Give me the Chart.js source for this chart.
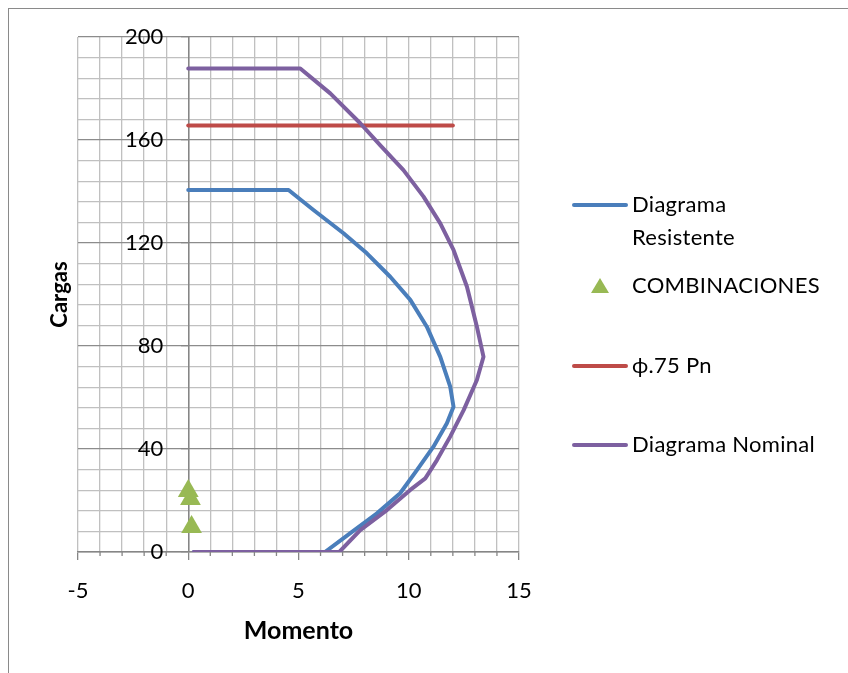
<!DOCTYPE html>
<html>
<head>
<meta charset="utf-8">
<script src="https://cdn.jsdelivr.net/npm/chart.js@4.4.1/dist/chart.umd.min.js"></script>
<style>
  body { margin: 0; background: #fff; overflow: hidden; font-family: Lato, sans-serif; }
  #wrap { position: relative; width: 848px; height: 673px; overflow: hidden; }
  #marco { position: absolute; left: 8px; top: 8px; width: 900px; height: 700px; border: 1px solid #8a8a8a; }
  #grafico { position: absolute; left: 0; top: 0; }
  .linea { position: absolute; left: 572px; width: 56px; height: 4px; border-radius: 2px; }
  .tri { position: absolute; left: 591px; width: 0; height: 0; border-left: 9px solid transparent; border-right: 9px solid transparent; border-bottom: 15px solid #98b954; }
  .texto { position: absolute; left: 632px; font-size: 22px; letter-spacing: 0.3px; line-height: 33px; color: #000; white-space: nowrap; }
</style>
</head>
<body>
<div id="wrap">
  <div id="marco"></div>
  <canvas id="grafico" width="848" height="673"></canvas>
  <div id="leyenda"></div>
</div>
<script>
// Diagrama Resistente
const momentoResistente = [0.25, 6.2, 7.35, 8.56, 9.61, 10.37, 11.12, 11.73, 12.03, 11.88, 11.43, 10.82, 10.07, 9.16, 8.1, 7.04, 5.68, 4.55, 0];
const cargaResistente = [0, 0, 7.3, 15, 22.8, 31.8, 40.9, 50, 56.4, 64.2, 75.8, 87.5, 97.9, 106.9, 116, 123.8, 132.8, 140.6, 140.6];

// Diagrama Nominal
const momentoNominal = [0.25, 6.85, 7.8, 9.01, 10.07, 10.75, 11.28, 11.88, 12.49, 13.09, 13.39, 13.09, 12.79, 12.64, 12.03, 11.43, 10.67, 9.76, 8.7, 7.8, 6.44, 5.08, 0];
const cargaNominal = [0, 0, 8.5, 16.3, 24.1, 28.6, 35.7, 44.8, 55.1, 66.8, 75.8, 87.5, 97.9, 103, 117.3, 127.6, 138, 148.3, 158, 166.5, 178.1, 187.8, 187.8];

// phi .75 Pn
const momentoLimite = [0, 12];
const cargaLimite = [165.6, 165.6];

// COMBINACIONES
const momentoComb = [0, 0.1, 0.15];
const cargaComb = [23.7, 20.6, 9.7];

const xTicks = [-5, 0, 5, 10, 15];
const yTicks = [0, 40, 80, 120, 160, 200];

function puntos(xs, ys) {
    return xs.map((x, i) => ({ x: x, y: ys[i] }));
}

const fuente = { family: 'Lato', size: 22 };
const gris = '#868686';
const nada = 'rgba(0,0,0,0)';

// small tick marks on the x axis
const marcasMenores = {
    id: 'marcasMenores',
    afterDraw(chart) {
        const ctx = chart.ctx;
        const sx = chart.scales.x;
        const base = chart.scales.y.getPixelForValue(0);
        ctx.save();
        ctx.strokeStyle = gris;
        ctx.lineWidth = 1.3;
        sx.ticks.forEach(t => {
            if (!xTicks.includes(t.value)) {
                const px = sx.getPixelForValue(t.value);
                ctx.beginPath();
                ctx.moveTo(px, base);
                ctx.lineTo(px, base + 4);
                ctx.stroke();
            }
        });
        ctx.restore();
    }
};

function dibujar() {
    const ctx = document.getElementById('grafico');
    new Chart(ctx, {
        type: 'scatter',
        data: {
            datasets: [
                {
                    label: 'Diagrama Resistente',
                    data: puntos(momentoResistente, cargaResistente),
                    showLine: true, borderColor: '#4a7ebb', borderWidth: 4,
                    pointRadius: 0, borderCapStyle: 'round', borderJoinStyle: 'round', order: 3
                },
                {
                    label: 'COMBINACIONES',
                    data: puntos(momentoComb, cargaComb),
                    showLine: false, pointStyle: 'triangle', pointRadius: 12,
                    backgroundColor: '#98b954', borderColor: '#98b954', borderWidth: 0, order: 0
                },
                {
                    label: 'ϕ.75 Pn',
                    data: puntos(momentoLimite, cargaLimite),
                    showLine: true, borderColor: '#be4b48', borderWidth: 4,
                    pointRadius: 0, borderCapStyle: 'round', order: 2
                },
                {
                    label: 'Diagrama Nominal',
                    data: puntos(momentoNominal, cargaNominal),
                    showLine: true, borderColor: '#7d60a0', borderWidth: 4,
                    pointRadius: 0, borderCapStyle: 'round', borderJoinStyle: 'round', order: 1
                }
            ]
        },
        options: {
            responsive: false,
            animation: false,
            layout: { padding: { left: 0, right: 329, top: 37, bottom: 0 } },
            plugins: { legend: { display: false }, tooltip: { enabled: false } },
            scales: {
                x: {
                    type: 'linear', position: 'bottom', min: -5, max: 15,
                    ticks: {
                        stepSize: 1, autoSkip: false, maxRotation: 0, padding: 18,
                        color: '#000', font: fuente,
                        callback: v => xTicks.includes(v) ? v : ''
                    },
                    grid: {
                        color: '#c0c0c0', lineWidth: 1.3, tickLength: 8,
                        tickColor: c => (c.tick && xTicks.includes(c.tick.value)) ? gris : nada
                    },
                    border: { color: gris, width: 1.5 },
                    title: {
                        display: true, text: 'Momento', color: '#000',
                        font: { family: 'Lato', size: 25, weight: 'bold' },
                        padding: { top: 0, bottom: 27 }
                    },
                    afterFit: s => { s.height = 121; }
                },
                // axis line through x = 0 (grid, ticks), labels come from yTitulo
                y: {
                    type: 'linear', position: { x: 0 }, min: 0, max: 200,
                    ticks: { stepSize: 8, autoSkip: false, callback: () => '' },
                    grid: {
                        color: c => (c.tick && yTicks.includes(c.tick.value)) ? '#8c8c8c' : '#c0c0c0',
                        lineWidth: 1.3, tickLength: 7,
                        tickColor: c => (c.tick && yTicks.includes(c.tick.value)) ? gris : nada
                    },
                    border: { color: gris, width: 1.5 }
                },
                yTitulo: {
                    type: 'linear', position: 'left', min: 0, max: 200,
                    ticks: {
                        stepSize: 40, mirror: true, crossAlign: 'far', padding: 47,
                        color: '#000', font: fuente
                    },
                    grid: { display: false, drawTicks: false },
                    border: { display: false },
                    title: {
                        display: true, text: 'Cargas', color: '#000',
                        font: { family: 'Lato', size: 22, weight: 'bold' },
                        padding: { top: 47, bottom: 0 }
                    },
                    afterFit: s => {
                        s.width = 78;
                        s.paddingTop = 0;
                        s.paddingBottom = 0;
                    }
                }
            }
        },
        plugins: [marcasMenores]
    });

    // legend at the right
    const leyenda = document.getElementById('leyenda');
    const items = [
        { texto: ['Diagrama', 'Resistente'], tipo: 'linea', color: '#4a7ebb', y: 205 },
        { texto: ['COMBINACIONES'], tipo: 'tri', color: '#98b954', y: 286 },
        { texto: ['ϕ.75 Pn'], tipo: 'linea', color: '#be4b48', y: 366 },
        { texto: ['Diagrama Nominal'], tipo: 'linea', color: '#7d60a0', y: 445 }
    ];
    items.forEach(it => {
        const m = document.createElement('div');
        if (it.tipo === 'linea') {
            m.className = 'linea';
            m.style.top = (it.y - 2) + 'px';
            m.style.background = it.color;
        } else {
            m.className = 'tri';
            m.style.top = (it.y - 8) + 'px';
        }
        leyenda.appendChild(m);
        const t = document.createElement('div');
        t.className = 'texto';
        t.style.top = (it.y - 18) + 'px';
        t.innerHTML = it.texto.join('<br>');
        leyenda.appendChild(t);
    });
}

document.fonts.load('22px Lato').then(dibujar, dibujar);
</script>
</body>
</html>
